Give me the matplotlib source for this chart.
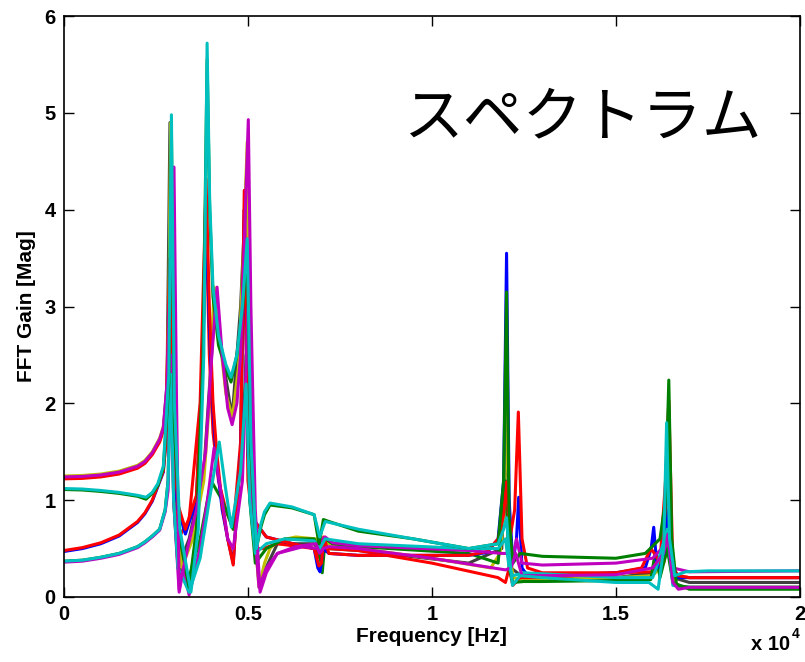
import matplotlib
matplotlib.use('Agg')
import matplotlib.pyplot as plt

# MATLAB-like line colours
C_B = (0, 0, 1)
C_G = (0, 0.5, 0)
C_R = (1, 0, 0)
C_C = (0, 0.75, 0.75)
C_M = (0.75, 0, 0.75)
C_Y = (0.75, 0.75, 0)
C_K = (0.25, 0.25, 0.25)

# measured FFT gain curves, frequency in Hz
k1_f = [0, 500, 1000, 1500, 2000, 2200, 2400, 2600, 2700, 2800, 2880, 2960, 3100, 3400, 3800, 4100, 4570, 4800,
        4980, 5100, 5300, 5800, 6800, 7000, 7200, 8000, 11000, 11900, 12030, 12150, 12500, 15000, 16000, 16300,
        16430, 16550, 17000, 20000]
k1_v = [1.23, 1.235, 1.25, 1.28, 1.34, 1.39, 1.48, 1.62, 1.74, 2.2, 4.9, 2.0, 0.3, 0.6, 1.3, 3.0, 1.85, 3.0,
        4.5, 1.0, 0.15, 0.55, 0.55, 0.45, 0.5, 0.48, 0.35, 0.5, 1.7, 0.3, 0.2, 0.2, 0.25, 0.5,
        1.3, 0.2, 0.15, 0.15]

y1_f = [0, 500, 1000, 1500, 2000, 2200, 2400, 2600, 2700, 2780, 2850, 2900, 2960, 3050, 3200, 3500, 3800, 3950,
        4080, 4200, 4400, 4580, 4750, 4880, 4980, 5060, 5150, 5300, 5450, 5600, 5800, 6300, 6850, 6950, 7050,
        7200, 8000, 10000, 11600, 11850, 11950, 12030, 12100, 12200, 12500, 13000, 15000, 16000, 16200, 16400,
        16550, 16700, 17000, 20000]
y1_v = [1.25, 1.255, 1.27, 1.30, 1.36, 1.41, 1.50, 1.64, 1.76, 1.98, 3.0, 4.9, 2.5, 0.8, 0.3, 0.6, 1.2, 2.0,
        3.2, 2.8, 2.1, 1.85, 2.4, 3.6, 4.7, 2.5, 0.8, 0.1, 0.35, 0.5, 0.58, 0.62, 0.6, 0.5, 0.58,
        0.55, 0.5, 0.4, 0.3, 0.45, 0.8, 2.1, 0.6, 0.2, 0.18, 0.18, 0.2, 0.22, 0.3, 0.55,
        0.2, 0.1, 0.1, 0.1]

r2_f = [0, 500, 1000, 1500, 2000, 2200, 2400, 2600, 2700, 2780, 2880, 2960, 3100, 3400, 3700, 3850, 3950, 4050,
        4200, 4400, 4600, 4800, 4900, 5000, 5200, 5400, 5800, 6800, 6950, 7050, 7200, 8000, 10000, 11800, 12000,
        12100, 12200, 12400, 13000, 15000, 16000, 16300, 16450, 16600, 17000, 20000]
r2_v = [1.22, 1.225, 1.24, 1.27, 1.33, 1.38, 1.47, 1.60, 1.72, 2.0, 3.5, 1.5, 0.6, 0.8, 2.0, 4.1, 2.5, 1.7,
        1.2, 0.9, 0.7, 1.6, 4.0, 1.2, 0.5, 0.5, 0.55, 0.5, 0.4, 0.55, 0.5, 0.48, 0.35, 0.2, 0.15,
        0.3, 0.12, 0.2, 0.2, 0.25, 0.26, 0.35, 0.6, 0.22, 0.2, 0.2]

g2_f = [0, 500, 1000, 1500, 2000, 2200, 2400, 2600, 2750, 2830, 2900, 2980, 3100, 3400, 3700, 4000, 4300, 4600,
        4850, 4950, 5050, 5200, 5500, 6000, 6800, 6950, 7020, 7100, 7300, 8000, 11000, 11800, 12000, 12100,
        12200, 12500, 13000, 15000, 15950, 16080, 16200, 16400, 16550, 17000, 20000]
g2_v = [0.37, 0.38, 0.41, 0.45, 0.52, 0.57, 0.63, 0.70, 0.9, 1.2, 2.8, 1.0, 0.3, 0.2, 0.6, 1.2, 1.0, 0.7,
        1.5, 2.5, 1.0, 0.35, 0.5, 0.6, 0.6, 0.45, 0.25, 0.6, 0.55, 0.52, 0.45, 0.35, 1.2, 0.3,
        0.15, 0.16, 0.16, 0.17, 0.18, 0.48, 0.2, 0.5, 0.15, 0.08, 0.08]

b1_f = [0, 500, 1000, 1500, 2000, 2200, 2400, 2600, 2700, 2850, 2920, 3000, 3100, 3300, 3600, 3780, 3860, 3950,
        4050, 4150, 4300, 4450, 4600, 4800, 4900, 5000, 5150, 5500, 6000, 6800, 6900, 6960, 7050, 7200, 8000,
        11000, 11500, 11800, 11950, 12030, 12100, 12200, 12300, 12360, 12450, 12600, 13000, 15000, 15800, 15960,
        16030, 16120, 16300, 16440, 16550, 16700, 17000, 20000]
b1_v = [0.47, 0.50, 0.55, 0.63, 0.77, 0.86, 0.99, 1.19, 1.29, 2.0, 3.0, 1.2, 0.9, 0.65, 1.0, 2.5, 4.0, 2.8,
        1.9, 1.4, 0.9, 0.6, 0.35, 1.5, 4.0, 1.5, 0.8, 0.62, 0.57, 0.5, 0.3, 0.26, 0.5, 0.45, 0.43,
        0.43, 0.46, 0.6, 1.2, 3.55, 1.0, 0.35, 0.6, 1.03, 0.3, 0.22, 0.22, 0.25, 0.3, 0.5,
        0.72, 0.3, 0.45, 0.9, 0.25, 0.2, 0.2, 0.2]

r1_f = [0, 500, 1000, 1500, 2000, 2200, 2400, 2600, 2700, 2870, 2950, 3030, 3100, 3300, 3600, 3780, 3860, 3950,
        4050, 4150, 4300, 4450, 4600, 4800, 4900, 5000, 5150, 5500, 6000, 6800, 6930, 7000, 7060, 7200, 8000,
        11000, 11500, 11800, 11950, 12030, 12120, 12250, 12350, 12450, 12600, 13000, 15000, 15700, 15950, 16050,
        16200, 16350, 16440, 16550, 16700, 17000, 20000]
r1_v = [0.48, 0.51, 0.56, 0.64, 0.78, 0.87, 1.0, 1.2, 1.3, 2.0, 3.2, 1.3, 0.95, 0.7, 1.05, 2.6, 4.32, 3.0,
        2.0, 1.5, 0.95, 0.6, 0.33, 1.5, 4.2, 1.5, 0.8, 0.62, 0.57, 0.5, 0.32, 0.35, 0.62, 0.45, 0.43,
        0.43, 0.47, 0.6, 0.85, 1.19, 0.6, 0.9, 1.91, 0.6, 0.3, 0.25, 0.25, 0.3, 0.5, 0.45,
        0.35, 1.2, 2.03, 0.3, 0.22, 0.2, 0.2]

m2_f = [0, 500, 1000, 1500, 2000, 2200, 2400, 2600, 2750, 2830, 2900, 2980, 3130, 3250, 3400, 3700, 3900, 4080,
        4300, 4450, 4600, 4850, 5000, 5120, 5300, 5500, 5800, 6500, 6900, 6980, 7100, 7300, 8000, 11000, 11900,
        12050, 12200, 12300, 12450, 13000, 15000, 16000, 16250, 16400, 16550, 17000, 20000]
m2_v = [0.36, 0.37, 0.40, 0.44, 0.51, 0.56, 0.62, 0.69, 0.88, 1.1, 2.5, 1.0, 0.05, 0.3, 0.02, 0.5, 1.0, 1.54,
        1.0, 0.6, 0.5, 1.2, 3.0, 1.0, 0.1, 0.3, 0.45, 0.52, 0.5, 0.58, 0.62, 0.56, 0.53, 0.48, 0.45,
        0.45, 0.4, 0.6, 0.35, 0.33, 0.35, 0.4, 0.5, 0.7, 0.3, 0.26, 0.27]

c2_f = [0, 500, 1000, 1500, 2000, 2200, 2400, 2600, 2750, 2830, 2900, 2980, 3100, 3400, 3700, 3950, 4220, 4400,
        4550, 4800, 4950, 5050, 5200, 5500, 6000, 6800, 6950, 7100, 8000, 11000, 11800, 12000, 12100, 12200,
        12500, 15000, 16000, 16100, 16250, 16400, 16550, 17000, 20000]
c2_v = [0.37, 0.38, 0.41, 0.45, 0.52, 0.57, 0.63, 0.70, 0.9, 1.2, 2.3, 1.0, 0.3, 0.05, 0.4, 1.0, 1.6, 1.1,
        0.72, 1.3, 2.2, 1.0, 0.45, 0.55, 0.6, 0.58, 0.5, 0.6, 0.55, 0.5, 0.5, 0.6, 0.3, 0.22,
        0.25, 0.2, 0.2, 0.3, 0.5, 0.7, 0.12, 0.1, 0.1]

g1_f = [0, 500, 1000, 1500, 2000, 2230, 2400, 2550, 2700, 2850, 2920, 3000, 3150, 3400, 3600, 3780, 3890, 3960,
        4050, 4200, 4400, 4540, 4700, 4850, 4980, 5080, 5230, 5350, 5450, 5600, 6200, 6800, 6930, 6970, 7050, 7200,
        8000, 9500, 11000, 11800, 11950, 12030, 12100, 12200, 12400, 13000, 15000, 15800, 16200, 16350, 16440,
        16520, 16650, 17000, 20000]
g1_v = [1.11, 1.105, 1.09, 1.07, 1.04, 1.01, 1.07, 1.15, 1.33, 2.2, 4.8, 1.8, 0.6, 0.1, 0.7, 2.5, 5.55, 4.0,
        3.1, 2.6, 2.35, 2.22, 2.5, 2.95, 3.6, 1.5, 0.5, 0.72, 0.85, 0.95, 0.92, 0.85, 0.55, 0.62, 0.8, 0.78,
        0.68, 0.6, 0.5, 0.55, 1.2, 3.15, 0.8, 0.35, 0.45, 0.42, 0.40, 0.45, 0.6, 1.0, 2.24,
        0.6, 0.12, 0.1, 0.1]

m1_f = [0, 500, 1000, 1500, 2000, 2200, 2400, 2600, 2700, 2800, 2900, 2990, 3060, 3130, 3300, 3600, 3850, 4000,
        4160, 4300, 4450, 4570, 4700, 4800, 4930, 5010, 5080, 5200, 5330, 5500, 5800, 6300, 6850, 6950, 7050, 7200,
        8000, 10000, 12000, 12150, 12280, 12450, 13000, 15000, 16000, 16300, 16420, 16550, 16700, 17000, 20000]
m1_v = [1.24, 1.245, 1.26, 1.29, 1.35, 1.40, 1.49, 1.63, 1.75, 2.2, 3.5, 4.44, 2.0, 0.08, 0.4, 0.9, 1.5, 2.4,
        3.2, 2.5, 1.95, 1.78, 2.0, 2.5, 4.0, 4.93, 3.0, 0.9, 0.05, 0.25, 0.45, 0.52, 0.55, 0.45, 0.5, 0.52,
        0.5, 0.4, 0.28, 0.3, 0.45, 0.22, 0.22, 0.23, 0.3, 0.45, 0.65, 0.15, 0.08, 0.1, 0.1]

c1_f = [0, 500, 1000, 1500, 2000, 2230, 2400, 2550, 2700, 2850, 2920, 3000, 3150, 3450, 3650, 3800, 3890, 3960,
        4050, 4200, 4400, 4540, 4700, 4850, 4980, 5080, 5230, 5350, 5450, 5600, 6200, 6800, 6950, 7100, 8000, 9500,
        11000, 11800, 11950, 12030, 12100, 12190, 12400, 13000, 15000, 15900, 16150, 16300, 16380, 16460, 16600,
        16900, 17500, 20000]
c1_v = [1.12, 1.115, 1.10, 1.08, 1.05, 1.03, 1.08, 1.17, 1.35, 2.3, 4.98, 2.0, 0.7, 0.05, 0.7, 2.5, 5.72, 4.1,
        3.2, 2.7, 2.4, 2.27, 2.5, 3.0, 3.7, 1.6, 0.5, 0.75, 0.88, 0.97, 0.93, 0.85, 0.62, 0.78, 0.7, 0.6,
        0.5, 0.55, 0.7, 0.82, 0.45, 0.12, 0.22, 0.2, 0.15, 0.15, 0.08, 0.5, 1.8, 0.6, 0.22,
        0.26, 0.27, 0.27]

curves = [
    (k1_f, k1_v, C_K), (y1_f, y1_v, C_Y), (r2_f, r2_v, C_R), (g2_f, g2_v, C_G),
    (b1_f, b1_v, C_B), (r1_f, r1_v, C_R), (m2_f, m2_v, C_M), (c2_f, c2_v, C_C),
    (g1_f, g1_v, C_G), (m1_f, m1_v, C_M), (c1_f, c1_v, C_C),
]

x_ticks = [0, 5000, 10000, 15000, 20000]
x_tick_labels = ['0', '0.5', '1', '1.5', '2']
y_ticks = [0, 1, 2, 3, 4, 5, 6]

plt.rcParams['font.family'] = ['Liberation Sans', 'DejaVu Sans']
plt.rcParams['font.weight'] = 'bold'

fig = plt.figure(figsize=(8.05, 6.62), dpi=100)
ax = fig.add_axes([0.0795, 0.0982, 0.914, 0.8776])

for f, v, col in curves:
    ax.plot(f, v, color=col, lw=2.2, solid_joinstyle='round')

ax.set_xlim(0, 20000)
ax.set_ylim(0, 6)
ax.set_xticks(x_ticks)
ax.set_xticklabels(x_tick_labels)
ax.set_yticks(y_ticks)
ax.tick_params(direction='in', length=7, width=1, top=True, right=True, labelsize=14.5, pad=6)
for s in ax.spines.values():
    s.set_linewidth(1.2)

ax.set_xlabel('Frequency [Hz]', fontsize=15, fontweight='bold', labelpad=2)
ax.set_ylabel('FFT Gain [Mag]', fontsize=15, fontweight='bold', labelpad=6)

# exponent label below the x axis, MATLAB style
fig.text(790 / 805, 12 / 662, 'x 10', fontsize=14.5, fontweight='bold', ha='right', va='baseline')
fig.text(792 / 805, 24 / 662, '4', fontsize=10, fontweight='bold', ha='left', va='baseline')

fig.text(0.723, 0.82, 'スペクトラム', fontsize=43,
         family=['Noto Sans CJK JP', 'DejaVu Sans'], fontweight='normal', ha='center', va='center')

fig.savefig('out.png', dpi=100)
